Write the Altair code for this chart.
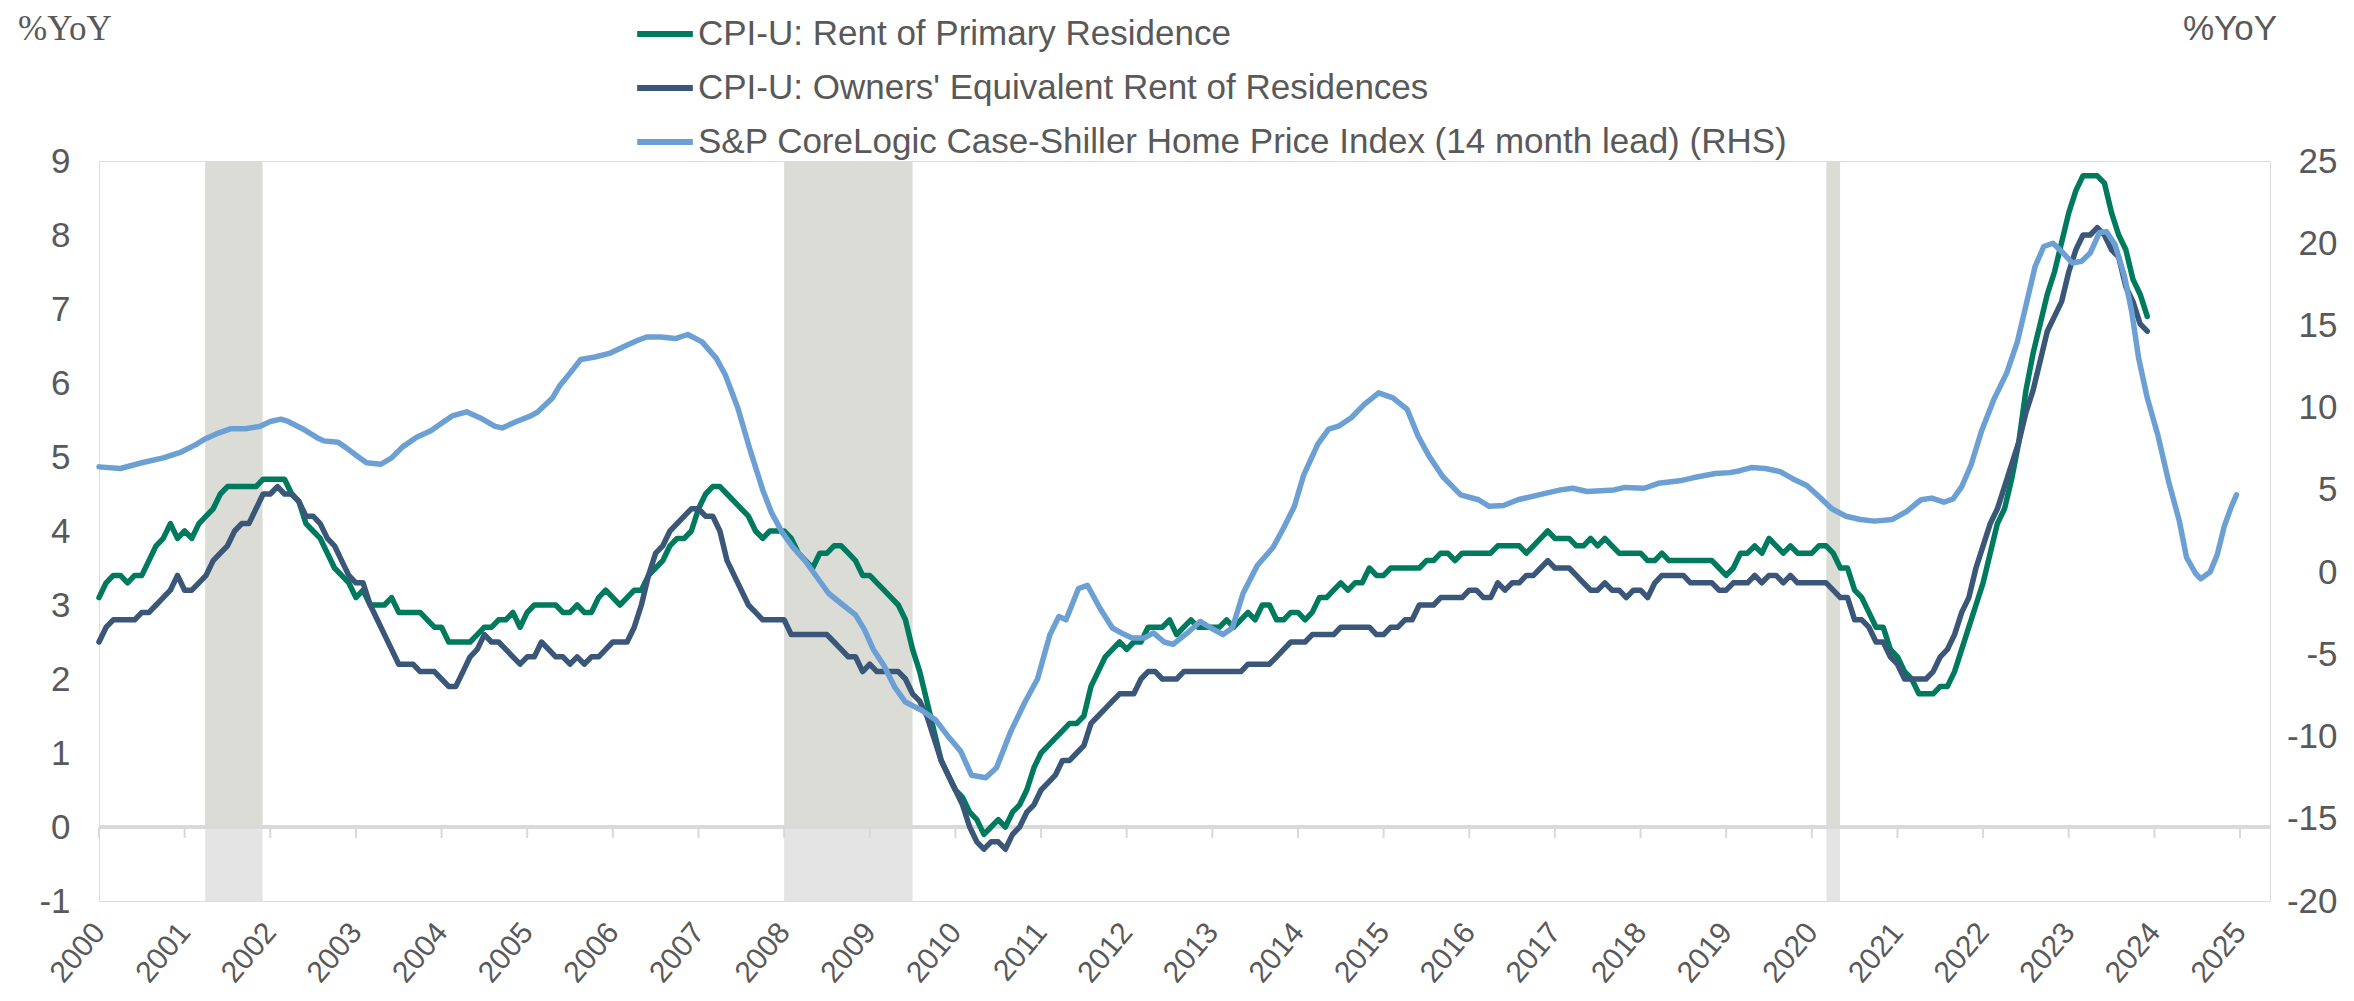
import altair as alt
import pandas as pd

# ---------------- data ----------------
series_names = [
    "CPI-U: Rent of Primary Residence",
    "CPI-U: Owners' Equivalent Rent of Residences",
    "S&P CoreLogic Case-Shiller Home Price Index (14 month lead) (RHS)",
]
series_colors = ["#007A5E", "#3A5779", "#6CA0D4"]

# monthly, Jan 2000 .. Dec 2023 (%YoY, left axis)
rent = [
    3.1, 3.3, 3.4, 3.4, 3.3, 3.4, 3.4, 3.6, 3.8, 3.9,
    4.1, 3.9, 4.0, 3.9, 4.1, 4.2, 4.3, 4.5, 4.6, 4.6,
    4.6, 4.6, 4.6, 4.7, 4.7, 4.7, 4.7, 4.5, 4.4, 4.1,
    4.0, 3.9, 3.7, 3.5, 3.4, 3.3, 3.1, 3.2, 3.0, 3.0,
    3.0, 3.1, 2.9, 2.9, 2.9, 2.9, 2.8, 2.7, 2.7, 2.5,
    2.5, 2.5, 2.5, 2.6, 2.7, 2.7, 2.8, 2.8, 2.9, 2.7,
    2.9, 3.0, 3.0, 3.0, 3.0, 2.9, 2.9, 3.0, 2.9, 2.9,
    3.1, 3.2, 3.1, 3.0, 3.1, 3.2, 3.2, 3.4, 3.5, 3.6,
    3.8, 3.9, 3.9, 4.0, 4.3, 4.5, 4.6, 4.6, 4.5, 4.4,
    4.3, 4.2, 4.0, 3.9, 4.0, 4.0, 4.0, 3.9, 3.7, 3.6,
    3.5, 3.7, 3.7, 3.8, 3.8, 3.7, 3.6, 3.4, 3.4, 3.3,
    3.2, 3.1, 3.0, 2.8, 2.4, 2.1, 1.7, 1.3, 0.9, 0.7,
    0.5, 0.4, 0.2, 0.1, -0.1, 0.0, 0.1, 0.0, 0.2, 0.3,
    0.5, 0.8, 1.0, 1.1, 1.2, 1.3, 1.4, 1.4, 1.5, 1.9,
    2.1, 2.3, 2.4, 2.5, 2.4, 2.5, 2.5, 2.7, 2.7, 2.7,
    2.8, 2.6, 2.7, 2.8, 2.7, 2.7, 2.7, 2.7, 2.8, 2.7,
    2.8, 2.9, 2.8, 3.0, 3.0, 2.8, 2.8, 2.9, 2.9, 2.8,
    2.9, 3.1, 3.1, 3.2, 3.3, 3.2, 3.3, 3.3, 3.5, 3.4,
    3.4, 3.5, 3.5, 3.5, 3.5, 3.5, 3.6, 3.6, 3.7, 3.7,
    3.6, 3.7, 3.7, 3.7, 3.7, 3.7, 3.8, 3.8, 3.8, 3.8,
    3.7, 3.8, 3.9, 4.0, 3.9, 3.9, 3.9, 3.8, 3.8, 3.9,
    3.8, 3.9, 3.8, 3.7, 3.7, 3.7, 3.7, 3.6, 3.6, 3.7,
    3.6, 3.6, 3.6, 3.6, 3.6, 3.6, 3.6, 3.5, 3.4, 3.5,
    3.7, 3.7, 3.8, 3.7, 3.9, 3.8, 3.7, 3.8, 3.7, 3.7,
    3.7, 3.8, 3.8, 3.7, 3.5, 3.5, 3.2, 3.1, 2.9, 2.7,
    2.7, 2.4, 2.3, 2.1, 2.0, 1.8, 1.8, 1.8, 1.9, 1.9,
    2.1, 2.4, 2.7, 3.0, 3.3, 3.7, 4.1, 4.3, 4.7, 5.2,
    5.9, 6.4, 6.8, 7.2, 7.5, 7.9, 8.3, 8.6, 8.8, 8.8,
    8.8, 8.7, 8.3, 8.0, 7.8, 7.4, 7.2, 6.9,
]

oer = [
    2.5, 2.7, 2.8, 2.8, 2.8, 2.8, 2.9, 2.9, 3.0, 3.1,
    3.2, 3.4, 3.2, 3.2, 3.3, 3.4, 3.6, 3.7, 3.8, 4.0,
    4.1, 4.1, 4.3, 4.5, 4.5, 4.6, 4.5, 4.5, 4.4, 4.2,
    4.2, 4.1, 3.9, 3.8, 3.6, 3.4, 3.3, 3.3, 3.0, 2.8,
    2.6, 2.4, 2.2, 2.2, 2.2, 2.1, 2.1, 2.1, 2.0, 1.9,
    1.9, 2.1, 2.3, 2.4, 2.6, 2.5, 2.5, 2.4, 2.3, 2.2,
    2.3, 2.3, 2.5, 2.4, 2.3, 2.3, 2.2, 2.3, 2.2, 2.3,
    2.3, 2.4, 2.5, 2.5, 2.5, 2.7, 3.0, 3.4, 3.7, 3.8,
    4.0, 4.1, 4.2, 4.3, 4.3, 4.2, 4.2, 4.0, 3.6, 3.4,
    3.2, 3.0, 2.9, 2.8, 2.8, 2.8, 2.8, 2.6, 2.6, 2.6,
    2.6, 2.6, 2.6, 2.5, 2.4, 2.3, 2.3, 2.1, 2.2, 2.1,
    2.1, 2.1, 2.1, 2.0, 1.8, 1.7, 1.5, 1.2, 0.9, 0.7,
    0.5, 0.3, 0.0, -0.2, -0.3, -0.2, -0.2, -0.3, -0.1, 0.0,
    0.2, 0.3, 0.5, 0.6, 0.7, 0.9, 0.9, 1.0, 1.1, 1.4,
    1.5, 1.6, 1.7, 1.8, 1.8, 1.8, 2.0, 2.1, 2.1, 2.0,
    2.0, 2.0, 2.1, 2.1, 2.1, 2.1, 2.1, 2.1, 2.1, 2.1,
    2.1, 2.2, 2.2, 2.2, 2.2, 2.3, 2.4, 2.5, 2.5, 2.5,
    2.6, 2.6, 2.6, 2.6, 2.7, 2.7, 2.7, 2.7, 2.7, 2.6,
    2.6, 2.7, 2.7, 2.8, 2.8, 3.0, 3.0, 3.0, 3.1, 3.1,
    3.1, 3.1, 3.2, 3.2, 3.1, 3.1, 3.3, 3.2, 3.3, 3.3,
    3.4, 3.4, 3.5, 3.6, 3.5, 3.5, 3.5, 3.4, 3.3, 3.2,
    3.2, 3.3, 3.2, 3.2, 3.1, 3.2, 3.2, 3.1, 3.3, 3.4,
    3.4, 3.4, 3.4, 3.3, 3.3, 3.3, 3.3, 3.2, 3.2, 3.3,
    3.3, 3.3, 3.4, 3.3, 3.4, 3.4, 3.3, 3.4, 3.3, 3.3,
    3.3, 3.3, 3.3, 3.2, 3.1, 3.1, 2.8, 2.8, 2.7, 2.5,
    2.5, 2.3, 2.2, 2.0, 2.0, 2.0, 2.0, 2.1, 2.3, 2.4,
    2.6, 2.9, 3.1, 3.5, 3.8, 4.1, 4.3, 4.6, 4.9, 5.2,
    5.6, 5.9, 6.3, 6.7, 6.9, 7.1, 7.5, 7.8, 8.0, 8.0,
    8.1, 8.0, 7.8, 7.7, 7.3, 7.1, 6.8, 6.7,
]

# Case-Shiller (14 month lead), right axis: (months after Jan 2000, %YoY)
cs_points = [
    (0, 6.4), (3, 6.3), (6, 6.65), (9, 6.95), (11.5, 7.3), (13.5, 7.74), (15, 8.13),
    (16.5, 8.42), (18.5, 8.72), (20.5, 8.72), (22.5, 8.86), (24, 9.16), (25.5, 9.3),
    (26.5, 9.16), (28.5, 8.72), (30.5, 8.19), (31.5, 7.98), (33.5, 7.9), (34.5, 7.6),
    (36.5, 6.95), (37.5, 6.65), (39.5, 6.56), (41, 6.95), (42.5, 7.6), (44.5, 8.2),
    (46.5, 8.6), (48.5, 9.2), (49.5, 9.5), (51.5, 9.75), (53.5, 9.36), (55.5, 8.86),
    (56.5, 8.77), (58.5, 9.16), (60.5, 9.5), (61.5, 9.75), (63.5, 10.57), (64.5, 11.3),
    (66, 12.1), (67.5, 12.93), (69.5, 13.08), (71.5, 13.3), (73.5, 13.7), (75.5, 14.1),
    (76.75, 14.3), (78.75, 14.3), (80.75, 14.2), (82.5, 14.45), (84.5, 14.0), (86.5, 13.0),
    (87.75, 12.0), (89.5, 10.0), (91.25, 7.4), (93, 5.0), (94.25, 3.6), (95.75, 2.4),
    (97.25, 1.5), (98.75, 0.8), (100.25, -0.1), (102.25, -1.3), (104.25, -2.0), (106, -2.6),
    (107.25, -3.5), (108.5, -4.7), (110, -5.7), (111.5, -7.0), (113, -7.9), (115.25, -8.4),
    (117.25, -9.0), (119, -10.0), (120.75, -10.9), (122.25, -12.35), (124.25, -12.5),
    (125.75, -11.9), (127.75, -9.7), (129.75, -7.9), (131.5, -6.5), (133.25, -3.8),
    (134.5, -2.7), (135.5, -2.9), (137.25, -1.0), (138.5, -0.8), (140.25, -2.2), (142, -3.4),
    (143.25, -3.7), (144.75, -4.0), (146.5, -4.0), (147.75, -3.7), (149.25, -4.25),
    (150.5, -4.4), (152.5, -3.7), (154.3, -3.0), (155.8, -3.4), (157.5, -3.8), (158.8, -3.4),
    (160.3, -1.3), (162.3, 0.4), (164.5, 1.5), (166, 2.7), (167.5, 4.0), (168.8, 5.9),
    (170.8, 7.8), (172.3, 8.7), (173.8, 8.9), (175.5, 9.4), (177.3, 10.2), (179.3, 10.9),
    (181.3, 10.6), (183.3, 9.9), (184.8, 8.3), (186.3, 7.1), (188.3, 5.8), (190.8, 4.7),
    (193.3, 4.4), (194.8, 4.0), (196.8, 4.05), (198.8, 4.4), (202.8, 4.8), (204.8, 5.0),
    (206.5, 5.1), (208.5, 4.9), (212.3, 5.0), (213.8, 5.15), (216.5, 5.1), (218.5, 5.4),
    (221.5, 5.55), (223.5, 5.75), (226.5, 6.0), (228.5, 6.05), (229.8, 6.15), (231.5, 6.36),
    (233.5, 6.3), (235.5, 6.12), (237.3, 5.68), (239.3, 5.27), (241, 4.6), (242.8, 3.85),
    (244.8, 3.4), (246.8, 3.2), (248.8, 3.1), (251.3, 3.2), (253.3, 3.7), (255.3, 4.4),
    (256.8, 4.5), (258.5, 4.25), (259.8, 4.45), (261, 5.2), (262.3, 6.5), (263.8, 8.6),
    (265.5, 10.5), (267.3, 12.1), (268.8, 14.0), (270, 16.2), (271.3, 18.6), (272.5, 19.8),
    (273.8, 20.0), (275, 19.5), (276.5, 18.8), (277.8, 18.9), (279, 19.4), (280.3, 20.65),
    (281.3, 20.7), (282.5, 19.9), (283.8, 18.0), (284.8, 15.9), (285.8, 13.0), (287, 10.6),
    (288.5, 8.3), (290, 5.5), (291.5, 3.1), (292.5, 0.9), (293.8, -0.1), (294.5, -0.4),
    (295.8, 0.0), (296.8, 1.05), (297.8, 2.8), (298.8, 4.0), (299.5, 4.7),
]

recession_start = [2001.24, 2008.0, 2020.17]
recession_end = [2001.91, 2009.5, 2020.33]

year_ticks = list(range(2000, 2026))
left_ticks = list(range(-1, 10))
right_ticks = list(range(-20, 30, 5))

# ---------------- tables ----------------
cpi_rows = []
for name, vals in ((series_names[0], rent), (series_names[1], oer)):
    for i, v in enumerate(vals):
        cpi_rows.append({"year": 2000 + i / 12, "value": v, "series": name})
cpi_df = pd.DataFrame(cpi_rows)

cs_df = pd.DataFrame(
    {"year": [2000 + m / 12 for m, _ in cs_points],
     "value": [v for _, v in cs_points],
     "series": series_names[2]}
)
rec_df = pd.DataFrame({"start": recession_start, "end": recession_end})
tick_df = pd.DataFrame({"year": year_ticks})

# ---------------- styling ----------------
W, H = 2171, 740
FONT = "Liberation Sans"
GREY = "#595959"
x_scale = alt.Scale(domain=[2000, 2025.35], nice=False, zero=False)
yl_scale = alt.Scale(domain=[-1, 9], nice=False, zero=False)
yr_scale = alt.Scale(domain=[-20, 25], nice=False, zero=False)
color_scale = alt.Scale(domain=series_names, range=series_colors)

x_axis = alt.Axis(
    values=year_ticks, format="d", title=None, labelAngle=-50, labelAlign="right",
    labelBaseline="middle", labelFont=FONT, labelFontSize=30, labelColor=GREY,
    labelPadding=26, domain=False, ticks=False, grid=False, labelFlush=False,
    labelOverlap=False)
yl_axis = alt.Axis(
    values=left_ticks, title=None, orient="left", labelFont=FONT, labelFontSize=35,
    labelColor=GREY, labelPadding=29, domain=False, ticks=False, grid=False,
    labelFlush=False, labelOverlap=False, labelExpr="toString(datum.value)")
yr_axis = alt.Axis(
    values=right_ticks, title=None, orient="right", labelFont=FONT, labelFontSize=35,
    labelColor=GREY, labelPadding=67, labelAlign="right", domain=False, ticks=False,
    grid=False, labelFlush=False, labelOverlap=False, labelExpr="toString(datum.value)")

legend = alt.Legend(
    title=None, orient="none", legendX=535, legendY=-158, direction="vertical",
    symbolType="stroke", symbolStrokeWidth=6, symbolSize=3100, labelFont=FONT,
    labelFontSize=35, labelColor=GREY, labelLimit=3000, labelOffset=2,
    rowPadding=5, padding=0, symbolOffset=0,
)

rec_top = alt.Chart(rec_df).mark_rect(color="#DBDCD6").encode(
    x=alt.X("start:Q", scale=x_scale, axis=x_axis),
    x2="end:Q",
    y=alt.Y(datum=0, scale=yl_scale, axis=yl_axis),
    y2=alt.datum(9),
)
rec_bot = alt.Chart(rec_df).mark_rect(color="#E4E4E4").encode(
    x=alt.X("start:Q", scale=x_scale, axis=x_axis),
    x2="end:Q",
    y=alt.Y(datum=-1, scale=yl_scale, axis=yl_axis),
    y2=alt.datum(0),
)
zero_line = alt.Chart(tick_df).mark_rule(color="#D9D9D9", strokeWidth=3).encode(
    x=alt.value(0), x2=alt.value(W),
    y=alt.Y(datum=0, scale=yl_scale, axis=yl_axis),
)
tick_marks = alt.Chart(tick_df).mark_rule(color="#D9D9D9", strokeWidth=2).encode(
    x=alt.X("year:Q", scale=x_scale, axis=x_axis),
    y=alt.Y(datum=0, scale=yl_scale, axis=yl_axis),
    y2=alt.value(H * 0.9 + 11),
)

cpi_lines = alt.Chart(cpi_df).mark_line(strokeWidth=5.5, strokeJoin="round", strokeCap="round").encode(
    x=alt.X("year:Q", scale=x_scale, axis=x_axis),
    y=alt.Y("value:Q", scale=yl_scale, axis=yl_axis),
    color=alt.Color("series:N", scale=color_scale, legend=legend),
    detail="series:N",
)

title_df = pd.DataFrame({"t": ["%YoY"]})
left_title = alt.Chart(title_df).mark_text(
    font="Liberation Serif", fontSize=35, color=GREY, align="left", baseline="alphabetic"
).encode(text="t:N", x=alt.value(-81), y=alt.value(-121))
right_title = alt.Chart(title_df).mark_text(
    font=FONT, fontSize=35, color=GREY, align="left", baseline="alphabetic"
).encode(text="t:N", x=alt.value(2084), y=alt.value(-121))

left_group = alt.layer(rec_top, rec_bot, zero_line, tick_marks, cpi_lines, left_title, right_title)

cs_line = alt.Chart(cs_df).mark_line(strokeWidth=5.5, strokeJoin="round", strokeCap="round").encode(
    x=alt.X("year:Q", scale=x_scale, axis=x_axis),
    y=alt.Y("value:Q", scale=yr_scale, axis=yr_axis),
    color=alt.Color("series:N", scale=color_scale, legend=legend),
)

chart = alt.layer(left_group, cs_line).resolve_scale(y="independent").properties(
    width=W, height=H,
    autosize=alt.AutoSizeParams(type="none"),
    padding={"left": 91, "top": 153, "right": 75, "bottom": 92},
).configure_view(strokeWidth=0, stroke="transparent").configure(background="white")

chart.save("out.html", embed_options={"renderer": "svg", "actions": False})
